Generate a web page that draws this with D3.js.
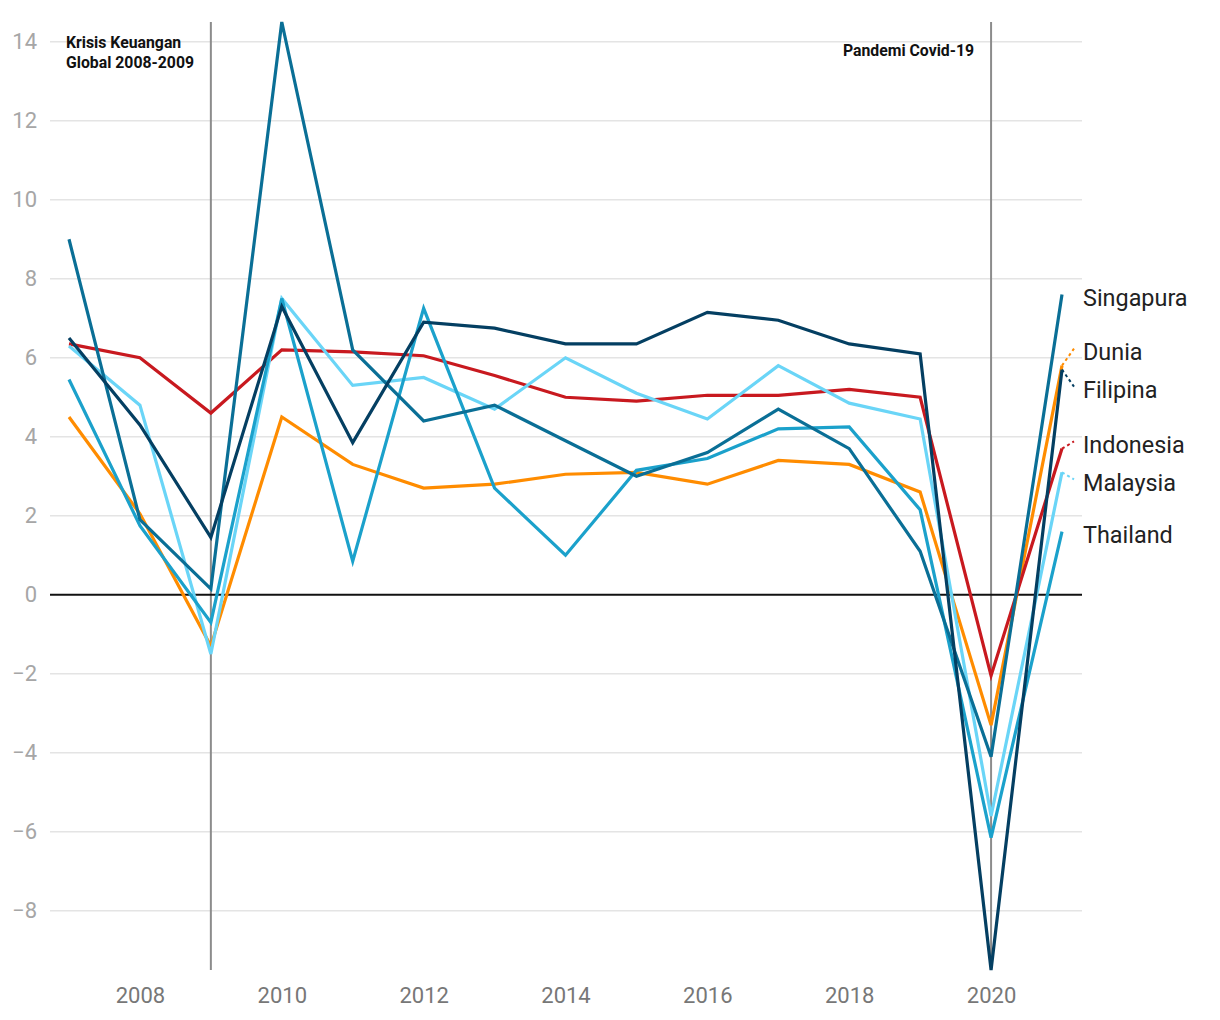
<!DOCTYPE html>
<html>
<head>
<meta charset="utf-8">
<script src="https://cdn.jsdelivr.net/npm/d3@7"></script>
<style>
  html, body { margin: 0; padding: 0; background: #fff; }
  svg { display: block; font-family: Roboto, "Noto Sans", sans-serif; }
</style>
</head>
<body>
<svg id="chart" width="1220" height="1020"></svg>
<script>
const years = [2007,2008,2009,2010,2011,2012,2013,2014,2015,2016,2017,2018,2019,2020,2021];

const singapura = [9.0, 1.9, 0.15, 14.5, 6.2, 4.4, 4.8, 3.9, 3.0, 3.6, 4.7, 3.7, 1.1, -4.1, 7.6];
const dunia     = [4.5, 2.05, -1.3, 4.5, 3.3, 2.7, 2.8, 3.05, 3.1, 2.8, 3.4, 3.3, 2.6, -3.3, 5.8];
const filipina  = [6.5, 4.3, 1.45, 7.3, 3.85, 6.9, 6.75, 6.35, 6.35, 7.15, 6.95, 6.35, 6.1, -9.5, 5.7];
const indonesia = [6.35, 6.0, 4.6, 6.2, 6.15, 6.05, 5.55, 5.0, 4.9, 5.05, 5.05, 5.2, 5.0, -2.05, 3.7];
const malaysia  = [6.3, 4.8, -1.5, 7.5, 5.3, 5.5, 4.7, 6.0, 5.1, 4.45, 5.8, 4.85, 4.45, -5.6, 3.1];
const thailand  = [5.45, 1.75, -0.7, 7.5, 0.85, 7.25, 2.7, 1.0, 3.15, 3.45, 4.2, 4.25, 2.15, -6.15, 1.6];

const seriesNames  = ["Dunia", "Indonesia", "Malaysia", "Thailand", "Singapura", "Filipina"];
const seriesValues = [dunia, indonesia, malaysia, thailand, singapura, filipina];
const seriesColors = ["#ff8c00", "#c8191f", "#6ad5f7", "#1ba1cb", "#0a6f96", "#043f62"];

const yTicks = [-8, -6, -4, -2, 0, 2, 4, 6, 8, 10, 12, 14];
const xTicks = [2008, 2010, 2012, 2014, 2016, 2018, 2020];

const events = [
  { year: 2009, lines: ["Krisis Keuangan", "Global 2008-2009"] },
  { year: 2020, lines: ["Pandemi Covid-19"] }
];

const svg = d3.select("#chart");
const plotLeft = 50, plotRight = 1082, plotTop = 22, plotBottom = 970;

const x = d3.scaleLinear().domain([2007, 2021]).range([69, 1062]);
const y = d3.scaleLinear().domain([-9.5, 14.5]).range([plotBottom, plotTop]);

// gridlines
svg.append("g").selectAll("line").data(yTicks.filter(d => d !== 0)).join("line")
  .attr("x1", plotLeft).attr("x2", plotRight)
  .attr("y1", d => y(d)).attr("y2", d => y(d))
  .attr("stroke", "#e4e4e4").attr("stroke-width", 1.5);

// y axis labels
const yAxis = d3.axisLeft(y).tickValues(yTicks).tickSize(0).tickPadding(0)
  .tickFormat(d => d < 0 ? "\u2212" + Math.abs(d) : d);
const gy = svg.append("g").attr("transform", `translate(37,0)`).call(yAxis);
gy.select(".domain").remove();
gy.selectAll("text").attr("font-size", 22).attr("fill", "#a6a6a6")
  .attr("font-family", "Roboto").attr("dy", "0.32em");

// x axis labels
const xAxis = d3.axisBottom(x).tickValues(xTicks).tickSize(0).tickPadding(0)
  .tickFormat(d3.format("d"));
const gx = svg.append("g").attr("transform", `translate(0,1003)`).call(xAxis);
gx.select(".domain").remove();
gx.selectAll("text").attr("font-size", 22).attr("fill", "#777")
  .attr("font-family", "Roboto").attr("dy", 0);

// event vertical lines
svg.append("g").selectAll("line").data(events).join("line")
  .attr("x1", d => x(d.year)).attr("x2", d => x(d.year))
  .attr("y1", plotTop).attr("y2", plotBottom)
  .attr("stroke", "#8c8c8c").attr("stroke-width", 2);

// zero line
svg.append("line")
  .attr("x1", plotLeft).attr("x2", plotRight)
  .attr("y1", y(0)).attr("y2", y(0))
  .attr("stroke", "#111").attr("stroke-width", 2);

// event annotations
const ev1 = svg.append("text").attr("x", 66).attr("y", 48)
  .attr("font-size", 15.8).attr("font-weight", "bold").attr("fill", "#111");
events[0].lines.forEach((t, i) => ev1.append("tspan").attr("x", 66).attr("dy", i === 0 ? 0 : 20).text(t));
svg.append("text").attr("x", x(2020) - 17).attr("y", 56)
  .attr("text-anchor", "end").attr("font-size", 15.8).attr("font-weight", "bold")
  .attr("fill", "#111").text(events[1].lines[0]);

// lines
const line = d3.line().x((d, i) => x(years[i])).y(d => y(d));
svg.append("g").selectAll("path").data(seriesValues).join("path")
  .attr("d", d => line(d))
  .attr("fill", "none")
  .attr("stroke", (d, i) => seriesColors[i])
  .attr("stroke-width", 3.2)
  .attr("stroke-linejoin", "miter")
  .attr("stroke-linecap", "butt");

// labels with simple collision avoidance
const gap = 38;
const lab = seriesNames.map((n, i) => ({
  name: n, color: seriesColors[i],
  end: y(seriesValues[i][seriesValues[i].length - 1])
})).sort((a, b) => a.end - b.end);
let groups = lab.map(l => ({ items: [l], center: l.end }));
let changed = true;
while (changed) {
  changed = false;
  for (let i = 0; i < groups.length - 1; i++) {
    const a = groups[i], b = groups[i + 1];
    const aBottom = a.center + (a.items.length - 1) * gap / 2;
    const bTop = b.center - (b.items.length - 1) * gap / 2;
    if (bTop - aBottom < gap) {
      const items = a.items.concat(b.items);
      const center = d3.mean(items, d => d.end);
      groups.splice(i, 2, { items, center });
      changed = true;
      break;
    }
  }
}
groups.forEach(g => {
  g.items.forEach((it, k) => { it.pos = g.center + (k - (g.items.length - 1) / 2) * gap; });
});

const xe = x(2021);
const lg = svg.append("g");
lab.forEach(l => {
  if (Math.abs(l.pos - l.end) > 2) {
    lg.append("line")
      .attr("x1", xe).attr("y1", l.end)
      .attr("x2", xe + 12).attr("y2", l.pos)
      .attr("stroke", l.color).attr("stroke-width", 2)
      .attr("stroke-dasharray", "3,3");
  }
  lg.append("text").attr("x", 1083).attr("y", l.pos).attr("dy", "0.5em")
    .attr("font-size", 23.4).attr("fill", "#222").text(l.name);
});
</script>
</body>
</html>
